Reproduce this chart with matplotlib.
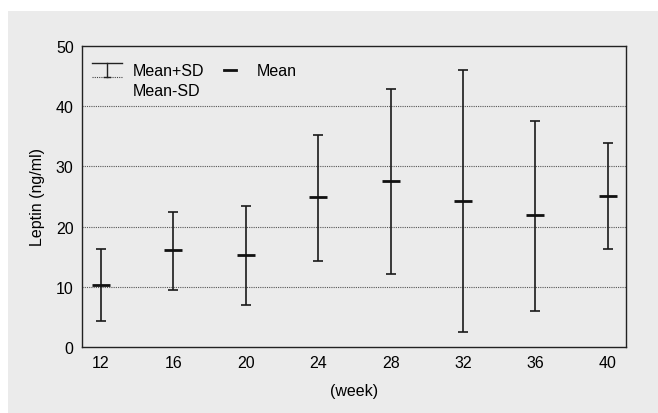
import matplotlib.pyplot as plt
from matplotlib.patches import Rectangle

plt.rcParams['font.family'] = ['Liberation Sans', 'DejaVu Sans']

# 周数与瘦素数据 (ng/ml)
weeks = [12, 16, 20, 24, 28, 32, 36, 40]
mean = [10.3, 16.1, 15.3, 24.9, 27.6, 24.3, 21.9, 25.1]
upper = [16.2, 22.5, 23.5, 35.2, 42.9, 46.0, 37.5, 33.9]   # Mean+SD
lower = [4.4, 9.5, 7.0, 14.3, 12.1, 2.5, 6.0, 16.3]        # Mean-SD
yticks = [0, 10, 20, 30, 40, 50]

FS = 11.5


def main():
    fig = plt.figure(figsize=(6.58, 4.14), dpi=100)
    fig.patch.set_facecolor('white')
    # 灰色底
    bg = Rectangle((8 / 658, 0), 1, (414 - 12) / 414, transform=fig.transFigure,
                   facecolor='#ebebeb', edgecolor='none', zorder=-10)
    fig.add_artist(bg)

    ax = fig.add_axes([82 / 658, (414 - 348) / 414, (626 - 82) / 658, (348 - 47) / 414])
    ax.set_facecolor('#ebebeb')

    err_lo = [m - l for m, l in zip(mean, lower)]
    err_hi = [u - m for m, u in zip(mean, upper)]
    ax.errorbar(weeks, mean, yerr=[err_lo, err_hi], fmt='none', ecolor='#1a1a1a',
                elinewidth=1.2, capsize=3.5, capthick=1.2, zorder=3)
    ax.plot(weeks, mean, linestyle='none', marker='_', markersize=13,
            markeredgewidth=2, color='#111111', zorder=4)

    ax.set_xlim(10.95, 41.0)
    ax.set_ylim(0, 50)
    ax.set_xticks(weeks)
    ax.set_yticks(yticks)
    ax.tick_params(length=0, labelsize=FS, pad=6)
    for y in yticks[1:-1]:
        ax.axhline(y, color='#555555', linestyle=(0, (1, 1)), linewidth=0.8, zorder=1)
    for s in ax.spines.values():
        s.set_color('#222222')
        s.set_linewidth(1.0)

    ax.set_ylabel('Leptin (ng/ml)', fontsize=FS, labelpad=8)
    ax.set_xlabel('(week)', fontsize=FS, labelpad=9)

    # 图例（手绘）
    tr = ax.transAxes
    x0, x1 = 10 / 544, 40 / 544
    ytop, ybot = 1 - 17 / 301, 1 - 31 / 301
    ax.plot([x0, x1], [ytop, ytop], color='#222222', lw=1.0, transform=tr)
    ax.plot([x0, x1], [ybot, ybot], color='#444444', lw=0.8, linestyle=(0, (1, 1)), transform=tr)
    xm = (x0 + x1) / 2
    ax.plot([xm, xm], [ytop, ybot], color='#222222', lw=1.0, transform=tr)
    ax.plot([xm - 3 / 544, xm + 3 / 544], [ybot, ybot], color='#222222', lw=1.0, transform=tr)
    ax.text(51 / 544, 1 - 25 / 301, 'Mean+SD', fontsize=FS, va='center', transform=tr)
    ax.text(51 / 544, 1 - 44 / 301, 'Mean-SD', fontsize=FS, va='center', transform=tr)
    ax.plot([142 / 544, 154 / 544], [1 - 24 / 301, 1 - 24 / 301], color='#111111',
            lw=2, transform=tr)
    ax.text(175 / 544, 1 - 25 / 301, 'Mean', fontsize=FS, va='center', transform=tr)

    fig.savefig('out.png', dpi=100)


if __name__ == '__main__':
    main()
